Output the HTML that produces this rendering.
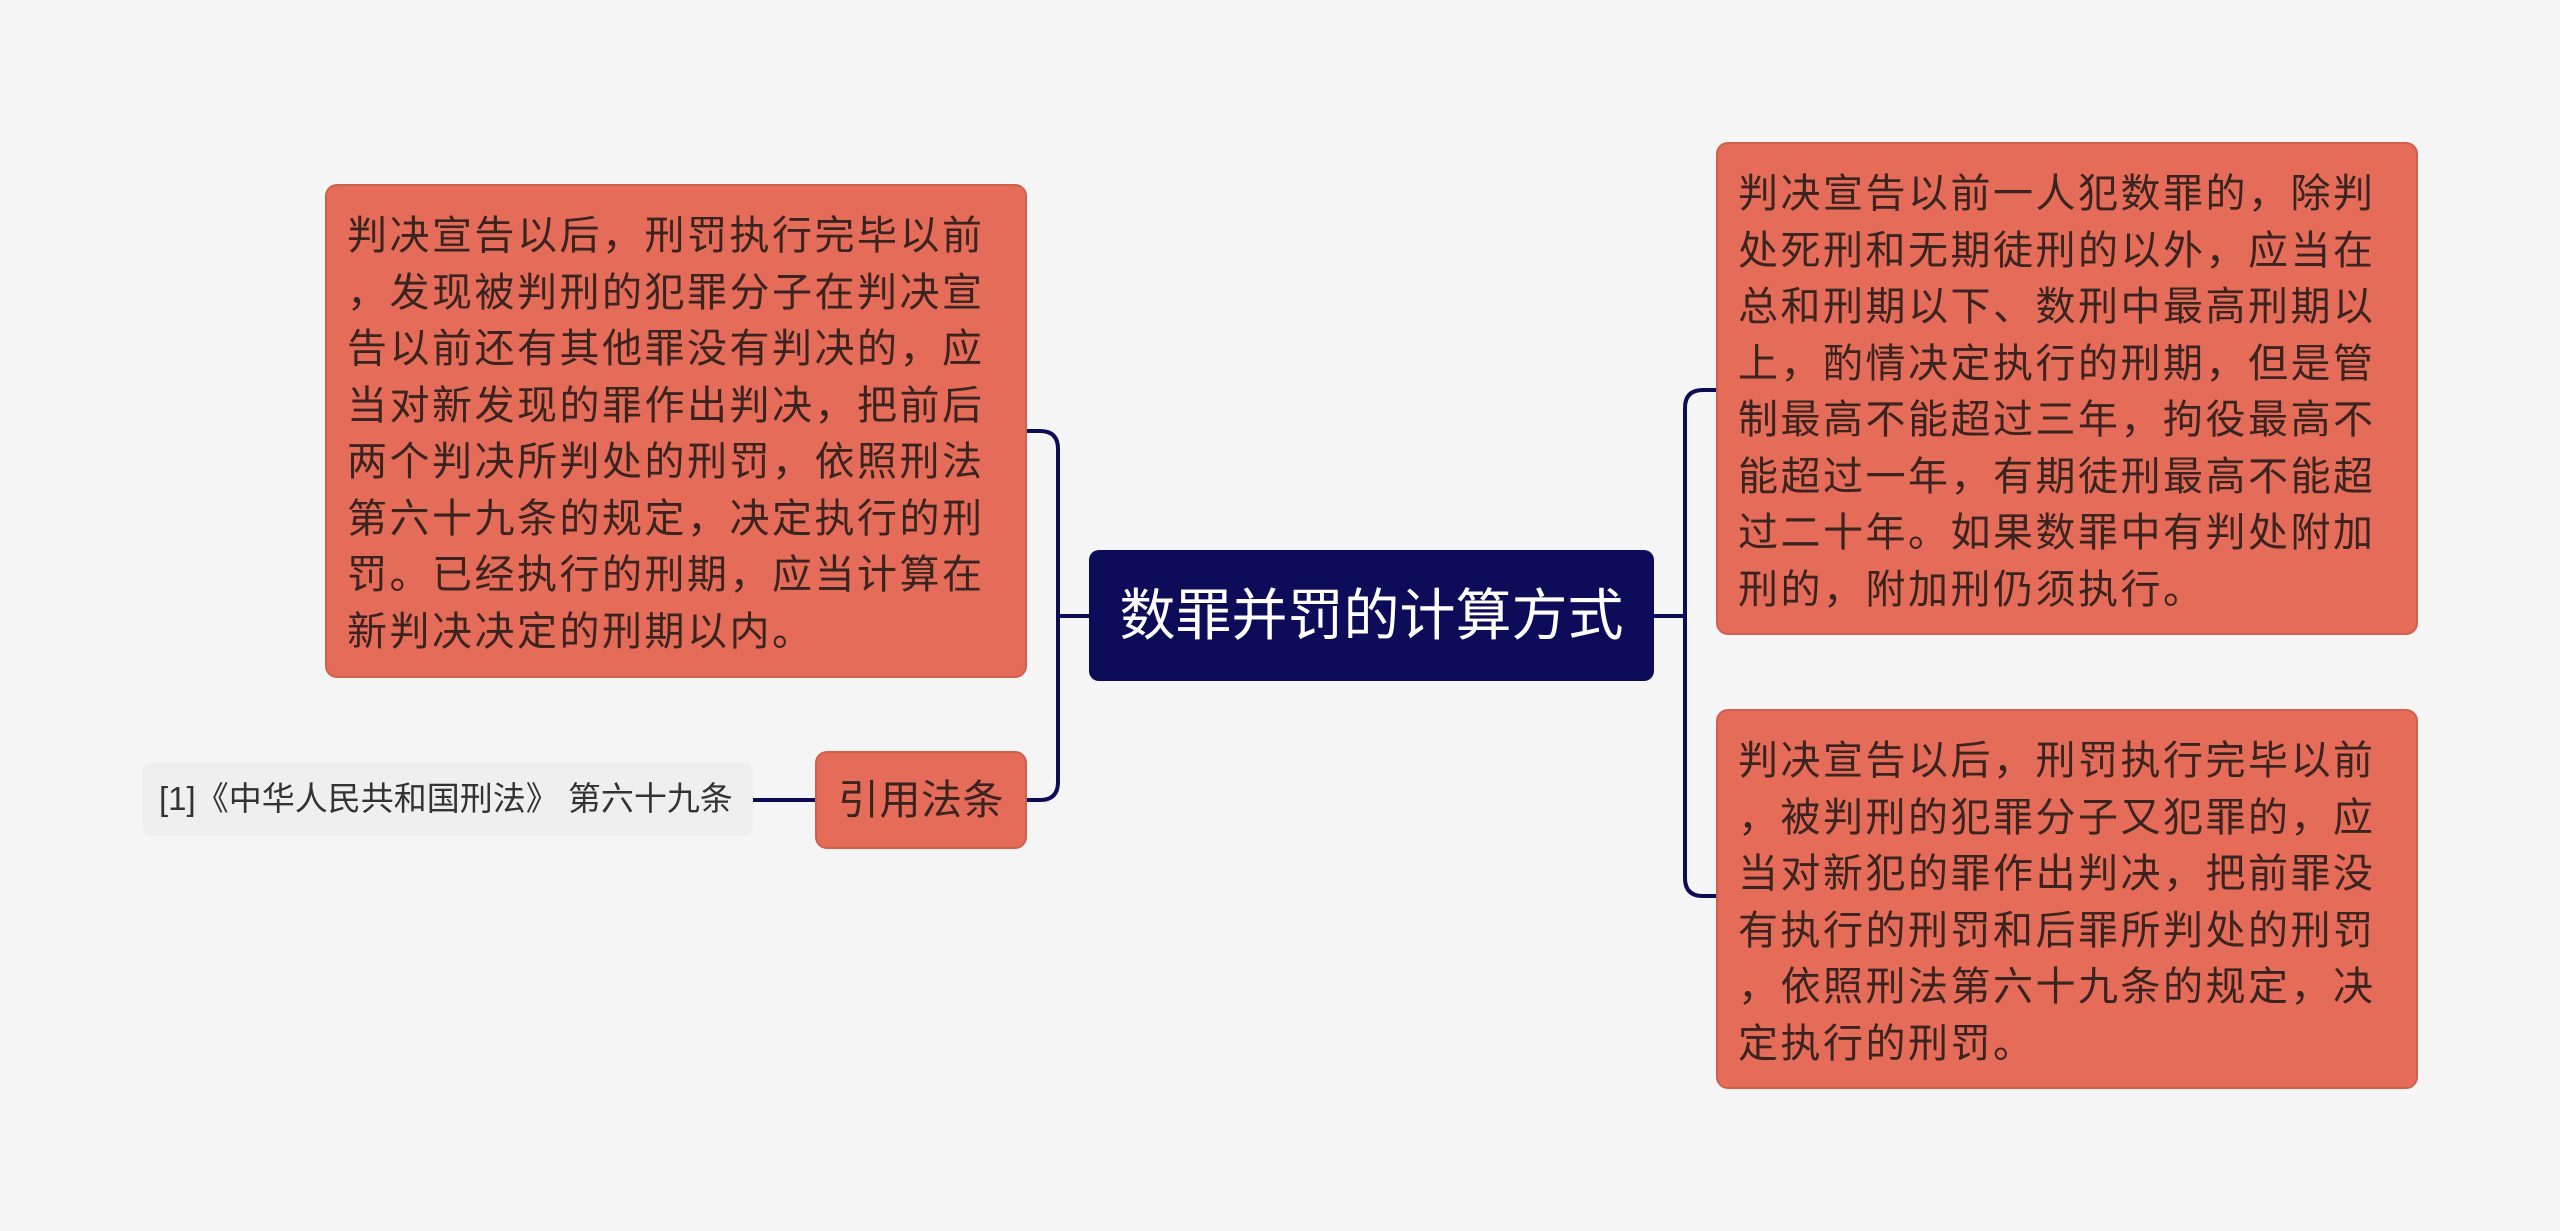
<!DOCTYPE html>
<html><head><meta charset="utf-8"><style>
body{margin:0;width:2560px;height:1231px;background:#f5f5f5;position:relative;overflow:hidden;font-family:"Liberation Sans","Noto Sans CJK SC",sans-serif}
.b{position:absolute;background:#e56c58;border:2px solid #d0604e;border-radius:12px;box-sizing:border-box;color:#3b2420;font-size:40px;line-height:56.5px;padding:22px 20px 0 20px;letter-spacing:2.5px;white-space:nowrap}
</style></head><body>
<svg width="2560" height="1231" style="position:absolute;left:0;top:0">
<g fill="none" stroke="#0d0d55" stroke-width="4">
<path d="M1089 616 H1058"/>
<path d="M1027 431 H1040 Q1058 431 1058 449 V782 Q1058 800 1040 800 H1027"/>
<path d="M753 800 H815"/>
<path d="M1654 616 H1685"/>
<path d="M1716 390 H1703 Q1685 390 1685 408 V878 Q1685 896 1703 896 H1716"/>
</g></svg>
<div class="b" style="left:325px;top:184px;width:702px;height:494px">判决宣告以后，刑罚执行完毕以前<br>，发现被判刑的犯罪分子在判决宣<br>告以前还有其他罪没有判决的，应<br>当对新发现的罪作出判决，把前后<br>两个判决所判处的刑罚，依照刑法<br>第六十九条的规定，决定执行的刑<br>罚。已经执行的刑期，应当计算在<br>新判决决定的刑期以内。</div>
<div class="b" style="left:815px;top:751px;width:212px;height:98px;padding:0;text-align:center;line-height:94px;font-size:41px;letter-spacing:0.5px">引用法条</div>
<div style="position:absolute;left:142px;top:762px;width:611px;height:74px;background:#efefef;border-radius:10px;font-size:33px;line-height:74px;color:#333;padding-left:17px;box-sizing:border-box;white-space:nowrap">[1]《中华人民共和国刑法》 第六十九条</div>
<div style="position:absolute;left:1089px;top:550px;width:565px;height:131px;background:#0c0c58;border-radius:10px;color:#fff;font-size:56px;line-height:131px;text-align:center;white-space:nowrap">数罪并罚的计算方式</div>
<div class="b" style="left:1716px;top:142px;width:702px;height:493px">判决宣告以前一人犯数罪的，除判<br>处死刑和无期徒刑的以外，应当在<br>总和刑期以下、数刑中最高刑期以<br>上，酌情决定执行的刑期，但是管<br>制最高不能超过三年，拘役最高不<br>能超过一年，有期徒刑最高不能超<br>过二十年。如果数罪中有判处附加<br>刑的，附加刑仍须执行。</div>
<div class="b" style="left:1716px;top:709px;width:702px;height:380px">判决宣告以后，刑罚执行完毕以前<br>，被判刑的犯罪分子又犯罪的，应<br>当对新犯的罪作出判决，把前罪没<br>有执行的刑罚和后罪所判处的刑罚<br>，依照刑法第六十九条的规定，决<br>定执行的刑罚。</div>
</body></html>
